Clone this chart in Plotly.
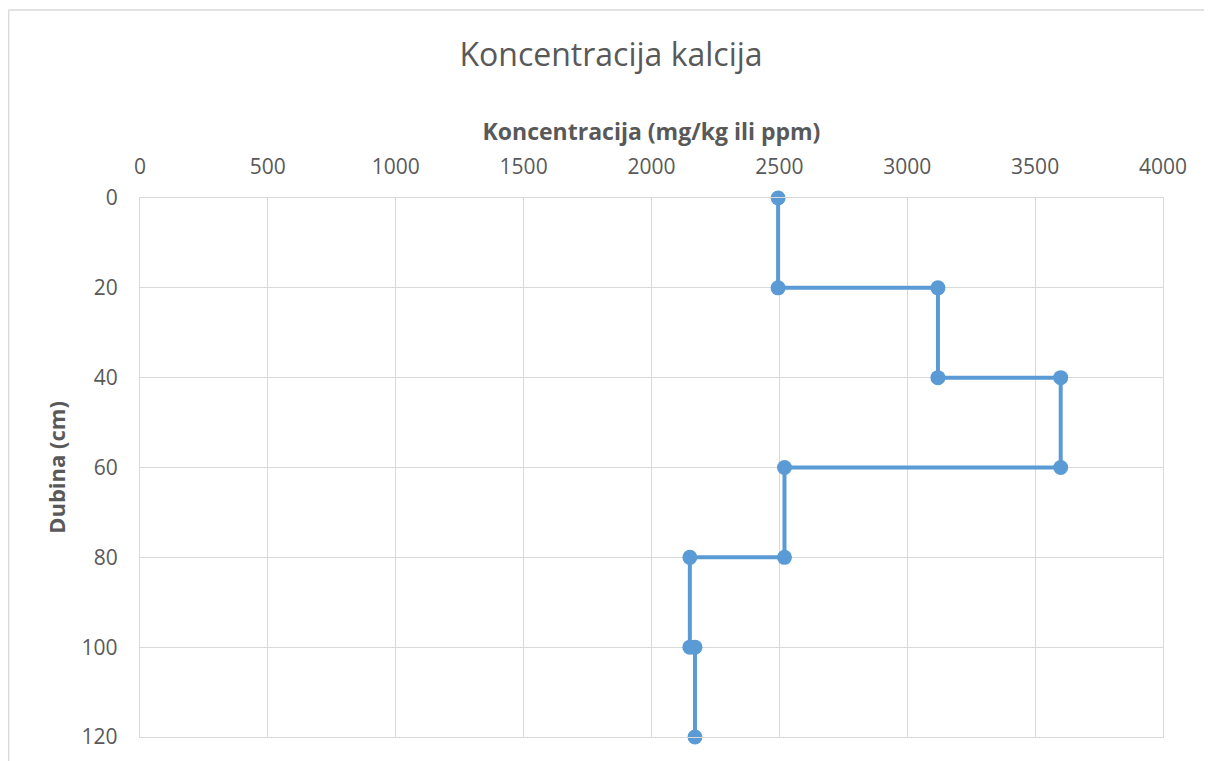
import plotly.graph_objects as go

# Data
depth_cm = [0, 20, 20, 40, 40, 60, 60, 80, 80, 100, 100, 120]
calcium_ppm = [2495, 2495, 3120, 3120, 3600, 3600, 2520, 2520, 2150, 2150, 2170, 2170]
x_ticks = [0, 500, 1000, 1500, 2000, 2500, 3000, 3500, 4000]
y_ticks = [0, 20, 40, 60, 80, 100, 120]

TXT = "#595959"
GRID = "#d9d9d9"
BLUE = "#5b9bd5"
FONT = "Open Sans"

fig = go.Figure()
fig.add_trace(go.Scatter(
    x=calcium_ppm, y=depth_cm, mode="lines+markers",
    line=dict(color=BLUE, width=4),
    marker=dict(color=BLUE, size=15),
    cliponaxis=False,
    showlegend=False, hoverinfo="x+y",
))

# page body has an 8px margin; figure coords = page coords - 8
OFF = 8
W, H = 1212 - OFF, 761 - OFF
L, R, T, B = 140 - OFF, 1163 - OFF, 198 - OFF, 737 - OFF
pw, ph = R - L, B - T

def fig2paper_x(fx):
    return (fx - L) / pw

def fig2paper_y(fy):
    return (B - fy) / ph

bx0 = fig2paper_x(0.7)
bx1 = fig2paper_x(W + 5)
by_top = fig2paper_y(10 - OFF)
by_bot = fig2paper_y(H + 5)

fig.update_layout(
    width=W, height=H,
    margin=dict(l=L, r=W - R, t=T, b=H - B, pad=0),
    paper_bgcolor="white", plot_bgcolor="white",
    font=dict(family=FONT, color=TXT, size=21),
    title=dict(text="Koncentracija kalcija", x=(611 - OFF) / W, xref="container",
               y=1 - (55 - OFF) / H, yref="container", yanchor="middle", xanchor="center",
               font=dict(size=32, color=TXT, family=FONT)),
    xaxis=dict(
        side="top", range=[0, 4000], tickvals=x_ticks,
        showgrid=True, gridcolor=GRID, gridwidth=1.3,
        showline=True, linecolor=GRID, linewidth=1.3, mirror=True,
        zeroline=False,
        ticks="outside", ticklen=14, tickcolor="rgba(0,0,0,0)",
        tickfont=dict(size=21, color=TXT, family=FONT),
        title=dict(text="<b>Koncentracija (mg/kg ili ppm)</b>", standoff=5,
                   font=dict(size=23, color=TXT, family=FONT)),
    ),
    yaxis=dict(
        range=[120, 0], tickvals=y_ticks,
        showgrid=True, gridcolor=GRID, gridwidth=1.3,
        showline=True, linecolor=GRID, linewidth=1.3, mirror=True,
        zeroline=False,
        ticks="outside", ticklen=17, tickcolor="rgba(0,0,0,0)",
        tickfont=dict(size=21, color=TXT, family=FONT),
        title=dict(text="<b>Dubina (cm)</b>", standoff=9,
                   font=dict(size=22, color=TXT, family=FONT)),
    ),
    shapes=[
        dict(type="line", xref="paper", yref="paper",
             x0=bx0, x1=bx1, y0=by_top, y1=by_top,
             line=dict(color=GRID, width=1.3), layer="below"),
        dict(type="line", xref="paper", yref="paper",
             x0=bx0, x1=bx0, y0=by_bot, y1=by_top,
             line=dict(color=GRID, width=1.3), layer="below"),
    ],
)

fig.write_html("out.html",
               post_script="document.documentElement.style.overflow='hidden';"
                           "document.body.style.overflow='hidden';")
